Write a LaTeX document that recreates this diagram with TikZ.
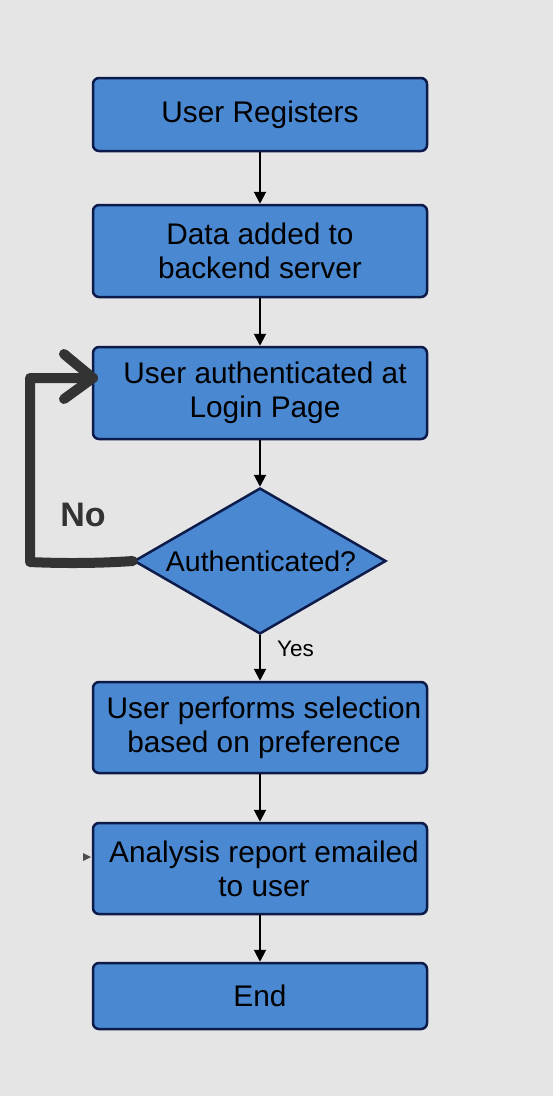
\documentclass[tikz,border=0pt]{standalone}
\usepackage{fontspec}
\setmainfont{Liberation Sans}
\usetikzlibrary{shapes.geometric,arrows.meta}
\definecolor{bg}{HTML}{E5E5E5}
\definecolor{boxfill}{HTML}{4A88D2}
\definecolor{boxline}{HTML}{0C1B4A}
\definecolor{pen}{HTML}{333333}
\tikzset{
  stepbox/.style={draw=boxline, line width=2.5pt, fill=boxfill, rounded corners=6pt,
    minimum width=334pt, inner sep=0pt, align=center, text=black,
    font=\fontsize{29.8}{34}\selectfont},
  decision/.style={diamond, draw=boxline, line width=2.5pt, fill=boxfill, aspect=1.726,
    minimum width=252pt, minimum height=146pt, inner sep=0pt, text=black,
    font=\fontsize{28.5}{34}\selectfont},
  flow/.style={draw=black, line width=2pt, -{Triangle[length=12pt,width=12pt]}},
  hand/.style={draw=pen, line width=10pt, line cap=round, line join=round}
}
\begin{document}
\begin{tikzpicture}[x=1pt,y=-1pt]
\fill[bg] (0,0) rectangle (553,1096);
\useasboundingbox (0,0) rectangle (553,1096);
\node[stepbox, minimum height=73pt] (reg) at (260,114.5) {User Registers};
\node[stepbox, minimum height=92pt] (data) at (260,251) {Data added to\\backend server};
\node[stepbox, minimum height=92pt] (login) at (260,393) {\hspace*{10pt}User authenticated at\\\hspace*{10pt}Login Page};
\node[decision] (auth) at (260,561) {\hspace*{2pt}Authenticated?};
\node[stepbox, minimum height=91pt] (sel) at (260,727.5) {\hspace*{8pt}User performs selection\\\hspace*{8pt}based on preference};
\node[stepbox, minimum height=91pt] (rep) at (260,868.5) {\hspace*{8pt}Analysis report emailed\\\hspace*{8pt}to user};
\node[stepbox, minimum height=66pt] (end) at (260,996) {End};
\draw[flow] (reg) -- (data);
\draw[flow] (data) -- (login);
\draw[flow] (login) -- (auth);
\draw[flow] (auth) -- (sel);
\node[anchor=west, inner sep=0pt, font=\fontsize{22.5}{24}\selectfont] (yes) at (277,649) {Yes};
\draw[flow] (sel) -- (rep);
\draw[flow] (rep) -- (end);
% hand-drawn loop
\coordinate (tip) at (93,378);
\coordinate (corner) at (30,378);
\draw[hand] (auth.west) .. controls (90,564) and (50,563) .. (30,562) -- (corner) -- (tip);
\draw[hand] (64,354) -- (tip) -- (64,399);
\node[text=pen, font=\bfseries\fontsize{34}{36}\selectfont, inner sep=0pt] (no) at (83,515) {No};
\fill[black!70] (83,853) -- (91,857) -- (83,861) -- cycle;
\end{tikzpicture}
\end{document}
